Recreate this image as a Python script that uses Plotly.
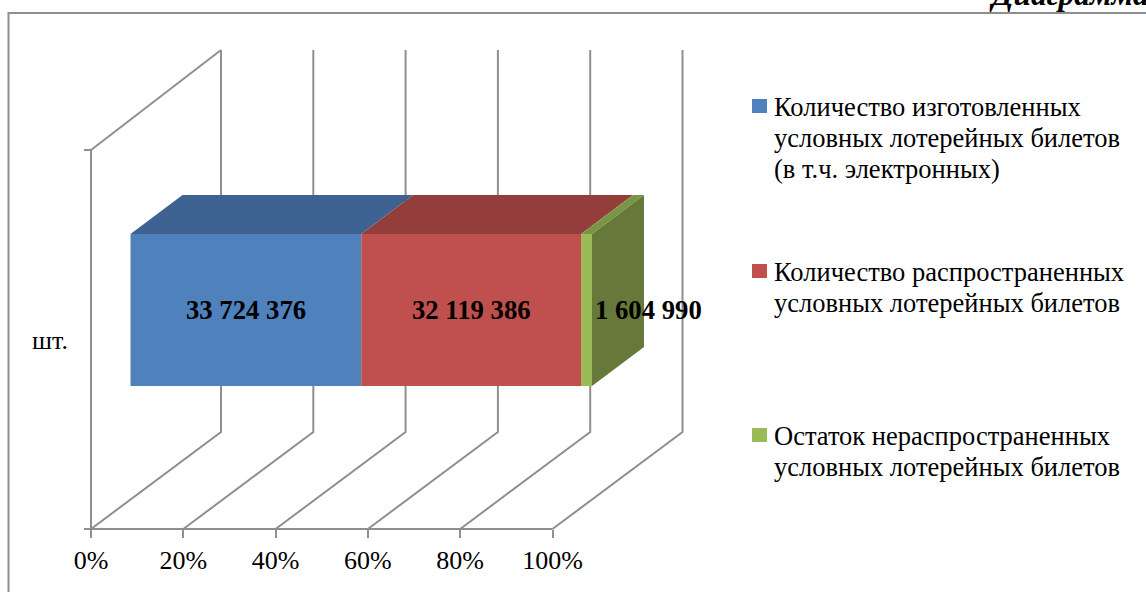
import plotly.graph_objects as go

# ---- data ----
series_names = [
    "Количество изготовленных условных лотерейных билетов (в т.ч. электронных)",
    "Количество распространенных условных лотерейных билетов",
    "Остаток нераспространенных условных лотерейных билетов",
]
legend_lines = [
    ["Количество изготовленных", "условных лотерейных билетов", "(в т.ч. электронных)"],
    ["Количество распространенных", "условных лотерейных билетов"],
    ["Остаток нераспространенных", "условных лотерейных билетов"],
]
series_values = [33724376, 32119386, 1604990]
value_labels = ["33 724 376", "32 119 386", "1 604 990"]
category_label = "шт."
x_ticks = [0, 20, 40, 60, 80, 100]
x_tick_labels = ["0%", "20%", "40%", "60%", "80%", "100%"]
front_colors = ["#4F81BD", "#C0504D", "#9BBB59"]
top_colors = ["#3E6392", "#933E3B", "#7A9546"]
side_color = "#66793A"
axis_color = "#8F8F8F"

# ---- page geometry (px) -> data scales ----
W, H = 1146, 592
PX0, PX100, FLOOR = 91.0, 552.5, 529.0
PPP = (PX100 - PX0) / 100.0  # pixels per percent


def xd(px):
    return (px - PX0) / PPP


def yd(py):
    return FLOOR - py


WALL_H = 379.0
DEPTH_X, DEPTH_Y = 130.0 / PPP, 97.0
TOP = WALL_H + 100.0
BAR_X0 = 39.5 / PPP
BAR_Y0, BAR_H = yd(386), 152.0
BAR_DX, BAR_DY = 52.0 / PPP, 39.0

total = sum(series_values)
shares = [v / total * 100 for v in series_values]
starts = [BAR_X0 + sum(shares[:i]) for i in range(len(shares))]
ends = [s + p for s, p in zip(starts, shares)]


def poly(points, fill=None, line=None, width=2):
    path = "M" + " L".join(f"{x},{y}" for x, y in points)
    if fill:
        path += " Z"
    return dict(
        type="path", path=path, xref="x", yref="y", layer="below",
        fillcolor=fill or "rgba(0,0,0,0)",
        line=dict(color=line or "rgba(0,0,0,0)", width=width if line else 0),
    )


shapes = []
# outer frame
shapes.append(poly([(xd(8.5), yd(H + 3)), (xd(8.5), yd(13)), (xd(W + 3), yd(13))], line="#8E8E8E"))
# walls and floor grid
for t in x_ticks:
    shapes.append(poly([(t, 0), (t + DEPTH_X, DEPTH_Y), (t + DEPTH_X, TOP)], line=axis_color))
shapes.append(poly([(0, WALL_H), (DEPTH_X, TOP)], line=axis_color))
shapes.append(poly([(0, 0), (0, WALL_H)], line=axis_color))
shapes.append(poly([(0, 0), (100, 0)], line=axis_color))
for yy in (0, WALL_H):
    shapes.append(poly([(-7 / PPP, yy), (0, yy)], line=axis_color))
# bar top faces and end face
y_top = BAR_Y0 + BAR_H
for s, e, c in zip(starts, ends, top_colors):
    shapes.append(poly([(s, y_top), (e, y_top), (e + BAR_DX, y_top + BAR_DY), (s + BAR_DX, y_top + BAR_DY)], fill=c))
e = ends[-1]
shapes.append(poly([(e, BAR_Y0), (e, y_top), (e + BAR_DX, y_top + BAR_DY), (e + BAR_DX, BAR_Y0 + BAR_DY)], fill=side_color))

fig = go.Figure()
for name, p, s, c in zip(series_names, shares, starts, front_colors):
    fig.add_trace(go.Bar(
        x=[p], y=[BAR_Y0 + BAR_H / 2], base=[s], width=[BAR_H], orientation="h",
        name=name, showlegend=False, marker=dict(color=c, line=dict(width=0)),
        hoverinfo="name",
    ))

SERIF = "Liberation Serif"
annotations = []
label_shift = [0, 0, 62]
for lab, s, p, sh in zip(value_labels, starts, shares, label_shift):
    annotations.append(dict(
        x=s + p / 2, y=BAR_Y0 + BAR_H / 2, xref="x", yref="y", text=f"<b>{lab}</b>",
        showarrow=False, xshift=sh, xanchor="center", yanchor="middle",
        font=dict(family=SERIF, size=26.7, color="#000"),
    ))
annotations.append(dict(
    x=xd(31), y=yd(340), xref="x", yref="y", text=category_label, showarrow=False,
    xanchor="left", yanchor="middle", xshift=-1, font=dict(family=SERIF, size=26, color="#000"),
))
annotations.append(dict(
    x=xd(988), y=yd(6), xref="x", yref="y", text="<b><i>Диаграмма</i></b>", showarrow=False,
    xanchor="left", yanchor="bottom", yshift=-8, xshift=-1,
    font=dict(family=SERIF, size=31.5, color="#000"),
))

# legend: one square and a block of text lines per series
LEGEND_TOPS = [107, 272, 436]  # centre of first line, px
LINE_STEP = 31
for lines, c, top in zip(legend_lines, front_colors, LEGEND_TOPS):
    shapes.append(dict(type="rect", xref="x", yref="y", x0=xd(752), x1=xd(767),
                       y0=yd(top - 8), y1=yd(top + 6), fillcolor=c, line=dict(width=0)))
    for j, line in enumerate(lines):
        annotations.append(dict(
            x=xd(773), y=yd(top + j * LINE_STEP), xref="x", yref="y", text=line,
            showarrow=False, xanchor="left", yanchor="middle", xshift=-1,
            font=dict(family=SERIF, size=26.5, color="#000"),
        ))

fig.update_layout(
    width=W, height=H, autosize=False,
    margin=dict(l=0, r=0, t=0, b=0, pad=0),
    paper_bgcolor="#FFFFFF", plot_bgcolor="#FFFFFF",
    barmode="overlay", showlegend=False,
    xaxis=dict(
        range=[xd(0), xd(W)], domain=[0, 1], anchor="free", position=(H - FLOOR) / H,
        tickmode="array", tickvals=x_ticks, ticktext=x_tick_labels, ticks="outside", ticklen=8,
        tickwidth=2, tickcolor=axis_color, showgrid=False, zeroline=False, showline=False,
        tickfont=dict(family=SERIF, size=26, color="#000"),
    ),
    yaxis=dict(range=[yd(H), yd(0)], domain=[0, 1], visible=False),
    shapes=shapes, annotations=annotations,
)
fig.write_html(
    "out.html",
    config={"displayModeBar": False},
    post_script="document.body.style.margin='0';document.body.style.overflow='hidden';",
)
